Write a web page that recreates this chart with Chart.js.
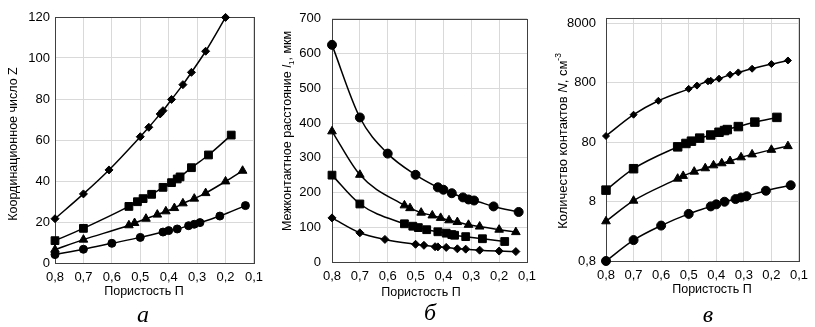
<!DOCTYPE html>
<html>
<head>
<meta charset="utf-8">
<script src="https://cdn.jsdelivr.net/npm/chart.js@4.4.1/dist/chart.umd.min.js"></script>
<style>
body { margin: 0; background: #fff; width: 815px; height: 327px; position: relative; overflow: hidden; }
.panel { position: absolute; top: 0; height: 327px; }
.letra { position: absolute; width: 40px; margin-left: -20px; text-align: center; font-family: "Liberation Serif", serif; font-style: italic; font-size: 24px; line-height: 24px; color: #000; }
</style>
</head>
<body>
<div class="panel" style="left:0;width:270px"><canvas id="graficaZ"></canvas></div>
<div class="panel" style="left:270px;width:275px"><canvas id="graficaL"></canvas></div>
<div class="panel" style="left:545px;width:270px"><canvas id="graficaN"></canvas></div>
<div class="letra" style="left:143px;top:302px">а</div>
<div class="letra" style="left:430px;top:300px">б</div>
<div class="letra" style="left:708px;top:302px">в</div>
<script>
// porosidad (eje x) de cada serie
var porRombo = [0.8, 0.7, 0.61, 0.5, 0.47, 0.43, 0.42, 0.39, 0.35, 0.32, 0.27, 0.2, 0.14]
var porCuadrado = [0.8, 0.7, 0.54, 0.51, 0.49, 0.46, 0.42, 0.39, 0.37, 0.36, 0.32, 0.26, 0.18]
var porTriangulo = [0.8, 0.7, 0.54, 0.52, 0.48, 0.44, 0.41, 0.38, 0.35, 0.31, 0.27, 0.2, 0.14]
var porCirculo = [0.8, 0.7, 0.6, 0.5, 0.42, 0.4, 0.37, 0.33, 0.31, 0.29, 0.22, 0.13]

// а - координационное число Z
var zRombo = [21.6, 33.7, 45.4, 61.6, 66.2, 72.7, 74.3, 79.8, 87.0, 93.0, 103.3, 119.8]
var zCuadrado = [10.9, 16.9, 27.6, 29.9, 31.4, 33.5, 36.9, 39.2, 41.0, 42.0, 46.5, 52.7, 62.4]
var zTriangulo = [6.5, 11.4, 18.4, 19.5, 21.6, 23.6, 25.2, 26.8, 29.1, 31.4, 34.1, 39.8, 45.0]
var zCirculo = [4.1, 6.7, 9.6, 12.5, 15.1, 15.8, 16.6, 18.2, 18.9, 19.7, 22.9, 28.0]

// б - межконтактное расстояние, мкм
var lCirculo = [625, 416, 312, 251, 215, 208, 198, 186, 180, 177, 160, 144]
var lTriangulo = [376, 251, 163, 155, 142, 134, 127, 120, 115, 107, 102, 93, 86]
var lCuadrado = [250, 167, 110, 103, 99, 93, 87, 83, 79, 77, 73, 67, 59]
var lRombo = [127, 84, 65, 51, 48, 44, 43.5, 42, 38, 37, 34, 31.5, 30]

// в - количество контактов N, см-3
var nRombo = [102, 233, 400, 635, 721, 851, 870, 944, 1101, 1203, 1387, 1662, 1910]
var nCuadrado = [12.5, 28.7, 67, 76.4, 83.5, 94, 106, 118, 126, 131, 147, 175, 210]
var nTriangulo = [3.73, 8.3, 19.5, 21.7, 25.6, 29.2, 32.7, 35.4, 38.6, 44.6, 50, 59.7, 68.9]
var nCirculo = [0.8, 1.8, 3.16, 4.97, 6.65, 7.2, 7.97, 8.84, 9.4, 9.9, 12.2, 15.1]

var ticksN = [0.8, 8, 80, 800, 8000]

Chart.defaults.font.family = '"Liberation Sans", Arial, sans-serif'
Chart.defaults.color = '#000'

function puntos(xs, ys) {
    var r = []
    for (let i = 0; i < ys.length; i++) {
        r.push({x: xs[i], y: ys[i]})
    }
    return r
}

function serie(xs, ys, forma, radio) {
    return {
        data: puntos(xs, ys),
        showLine: true,
        borderColor: '#000',
        backgroundColor: '#000',
        borderWidth: 1.5,
        pointStyle: forma,
        pointRadius: radio,
        pointBorderWidth: 1,
        cubicInterpolationMode: 'monotone',
        clip: false
    }
}

function coma(v) {
    return String(v).replace('.', ',')
}

var marco = {
    id: 'marco',
    beforeDatasetsDraw: function (chart) {
        var a = chart.chartArea, c = chart.ctx
        c.save()
        c.strokeStyle = '#404040'
        c.lineWidth = 1
        c.strokeRect(Math.round(a.left) + 0.5, Math.round(a.top) + 0.5, Math.round(a.right - a.left), Math.round(a.bottom - a.top))
        c.restore()
    }
}

function fuente(s, size) {
    var t = s.sub || s.sup ? size * 0.65 : size
    return (s.i ? 'italic ' : '') + t + 'px "Liberation Sans", Arial, sans-serif'
}

// titulos dibujados a mano (cursiva, subindices)
function titulos(conf) {
    return {
        id: 'titulos',
        afterDraw: function (chart) {
            var ctx = chart.ctx
            ctx.save()
            ctx.fillStyle = '#000'
            ctx.textBaseline = 'middle'
            ctx.textAlign = 'center'
            ctx.font = conf.tamX + 'px "Liberation Sans", Arial, sans-serif'
            ctx.fillText('Пористость П', conf.xx, conf.xy)

            ctx.translate(conf.yx, conf.yy)
            ctx.rotate(-Math.PI / 2)
            ctx.textAlign = 'left'
            var total = 0
            conf.y.forEach(function (s) {
                ctx.font = fuente(s, conf.tamY)
                s.w = ctx.measureText(s.t).width
                total += s.w
            })
            var x = -total / 2
            conf.y.forEach(function (s) {
                ctx.font = fuente(s, conf.tamY)
                var dy = s.sub ? conf.tamY * 0.3 : (s.sup ? -conf.tamY * 0.35 : 0)
                ctx.fillText(s.t, x, dy)
                x += s.w
            })
            ctx.restore()
        }
    }
}

function ejeX(alto) {
    return {
        type: 'linear',
        reverse: true,
        min: 0.1,
        max: 0.8,
        afterFit: function (eje) { eje.height = alto },
        grid: {color: '#d9d9d9', drawTicks: false},
        border: {display: false},
        ticks: {stepSize: 0.1, padding: 7, font: {size: 13}, callback: function (v) { return v.toFixed(1).replace('.', ',') }}
    }
}

function opciones(padding, ejeY, altoX) {
    return {
        responsive: true,
        maintainAspectRatio: false,
        animation: false,
        layout: {padding: padding},
        plugins: {legend: {display: false}, tooltip: {enabled: false}},
        scales: {x: ejeX(altoX), y: ejeY}
    }
}

new Chart(document.getElementById('graficaZ'), {
    type: 'scatter',
    data: {
        datasets: [
            serie(porRombo.slice(0, zRombo.length), zRombo, 'rectRot', 4),
            serie(porCuadrado, zCuadrado, 'rect', 5.5),
            serie(porTriangulo, zTriangulo, 'triangle', 5),
            serie(porCirculo, zCirculo, 'circle', 4)
        ]
    },
    options: opciones({top: 17, right: 16, left: 0, bottom: 0}, {
        min: 0, max: 120,
        afterFit: function (eje) { eje.width = 55 },
        grid: {color: '#d9d9d9', drawTicks: false},
        border: {display: false},
        ticks: {stepSize: 20, padding: 5, font: {size: 13}}
    }, 64),
    plugins: [marco, titulos({
        tamX: 12.5, xx: 144, xy: 292,
        tamY: 12.5, yx: 14, yy: 144,
        y: [{t: 'Координационное число Z'}]
    })]
})

new Chart(document.getElementById('graficaL'), {
    type: 'scatter',
    data: {
        datasets: [
            serie(porCirculo, lCirculo, 'circle', 4.5),
            serie(porTriangulo, lTriangulo, 'triangle', 5),
            serie(porCuadrado, lCuadrado, 'rect', 5.5),
            serie(porRombo, lRombo, 'rectRot', 4)
        ]
    },
    options: opciones({top: 17, right: 18, left: 0, bottom: 0}, {
        min: 0, max: 700,
        afterFit: function (eje) { eje.width = 62 },
        grid: {color: '#d9d9d9', drawTicks: false},
        border: {display: false},
        ticks: {stepSize: 100, padding: 11, font: {size: 13}}
    }, 65),
    plugins: [marco, titulos({
        tamX: 12.5, xx: 151, xy: 293,
        tamY: 12.5, yx: 18, yy: 131,
        y: [{t: 'Межконтактное расстояние '}, {t: 'l', i: true}, {t: '1', sub: true}, {t: ', мкм'}]
    })]
})

new Chart(document.getElementById('graficaN'), {
    type: 'scatter',
    data: {
        datasets: [
            serie(porRombo, nRombo, 'rectRot', 3.5),
            serie(porCuadrado, nCuadrado, 'rect', 6),
            serie(porTriangulo, nTriangulo, 'triangle', 5),
            serie(porCirculo, nCirculo, 'circle', 4.5)
        ]
    },
    options: opciones({top: 15, right: 10, left: 0, bottom: 0}, {
        type: 'logarithmic',
        min: 0.8, max: 10000,
        afterFit: function (eje) { eje.width = 61 },
        afterBuildTicks: function (eje) { eje.ticks = ticksN.map(function (v) { return {value: v} }) },
        grid: {color: '#d9d9d9', drawTicks: false},
        border: {display: false},
        ticks: {autoSkip: false, padding: 10, font: {size: 13}, callback: function (v) { return coma(v) }}
    }, 66),
    plugins: [marco, titulos({
        tamX: 12.5, xx: 167, xy: 290,
        tamY: 13, yx: 18, yy: 141,
        y: [{t: 'Количество контактов '}, {t: 'N', i: true}, {t: ', см'}, {t: '-3', sup: true}]
    })]
})
</script>
</body>
</html>
